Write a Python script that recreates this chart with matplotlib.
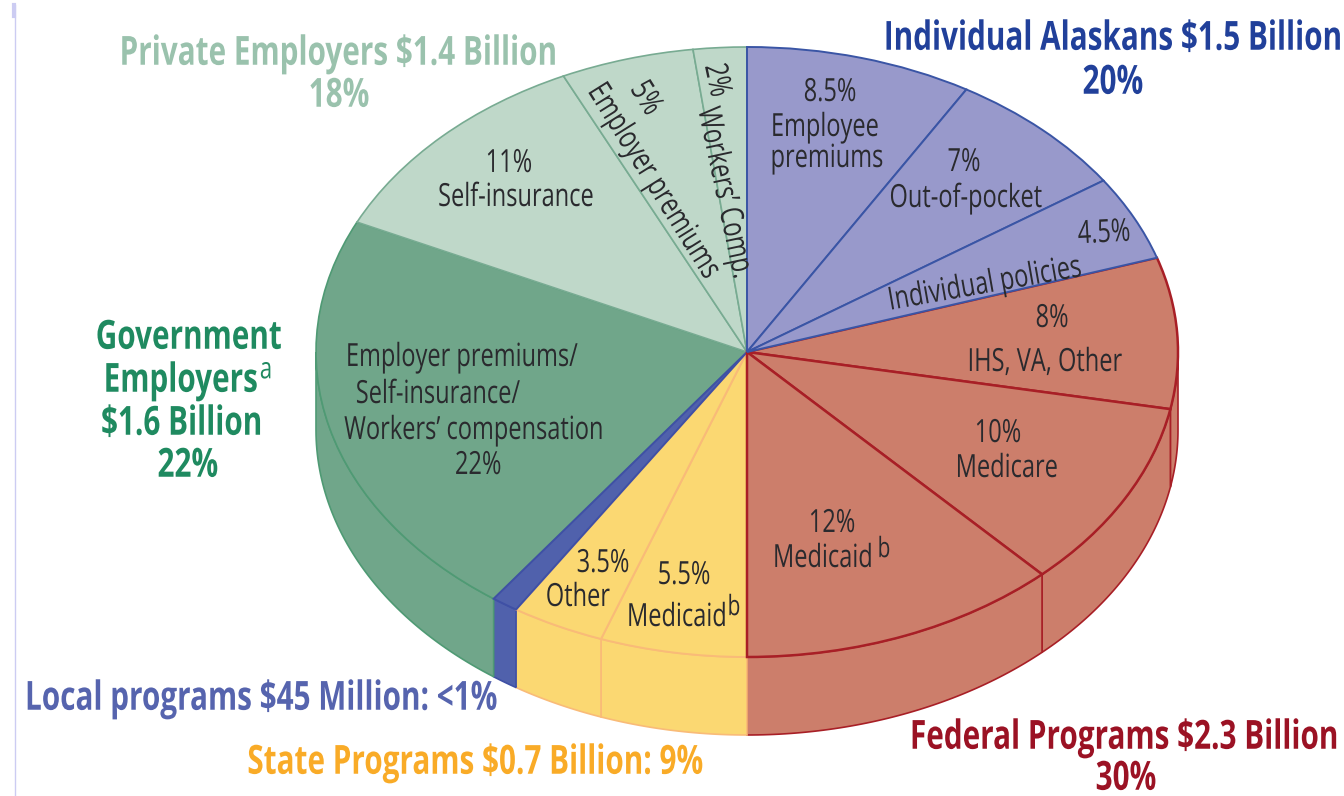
import numpy as np
import matplotlib
matplotlib.use('Agg')
import matplotlib.pyplot as plt
from matplotlib.patheffects import AbstractPathEffect
from matplotlib.transforms import Affine2D

plt.rcParams['font.family'] = ['Open Sans', 'DejaVu Sans']

# shares in percent, clockwise from 12 o'clock
slice_names = ['Employee premiums', 'Out-of-pocket', 'Individual policies',
               'IHS, VA, Other', 'Medicare', 'Medicaid (federal)',
               'Medicaid (state)', 'Other (state)', 'Local programs',
               'Government employers', 'Self-insurance', 'Employer premiums', "Workers' Comp."]
slice_values = [8.5, 7, 4.5, 8, 10, 12, 5.5, 3.5, 1, 22, 11, 5, 2]

BLUE, RED, YELLOW, LOCAL, GREEN, PALE = range(6)
slice_groups = [BLUE, BLUE, BLUE, RED, RED, RED, YELLOW, YELLOW, LOCAL, GREEN, PALE, PALE, PALE]
fills = ['#9899cb', '#cc7e6b', '#fbd872', '#5061ac', '#70a68a', '#bfd8c9']
edges = ['#3a55a5', '#a81f26', '#f9bb78', '#3f50a5', '#4f9a74', '#78ab92']
widths = [1.4, 1.8, 1.4, 1.4, 1.2, 1.2]
orders = [5, 4, 3, 3, 2, 2]

# geometry of the tilted pie, in image pixels
W, H = 1344, 796
CX, CY, RX, RY, DEPTH = 747, 352, 431, 305, 78


def px(x, y):
    return (x - CX) / RX, (CY - y) / RY


class Tall(AbstractPathEffect):
    # no condensed font installed, so stretch glyphs upward to get the same look
    def __init__(self, factor):
        super().__init__()
        self.factor = factor

    def draw_path(self, renderer, gc, tpath, affine, rgbFace=None):
        stretch = Affine2D().translate(0, -36).scale(1, self.factor).translate(0, 36)
        renderer.draw_path(gc, tpath, stretch + affine, rgbFace)


fig = plt.figure(figsize=(W / 100, H / 100), dpi=100)
ax = fig.add_axes([0, 0, 1, 1])
depth = DEPTH / RY

cuts = np.concatenate([[0], np.cumsum(slice_values)]) / np.sum(slice_values)

# side wall, only the front half (25%..75%) is visible
for i, g in enumerate(slice_groups):
    a = max(cuts[i], 0.25)
    b = min(cuts[i + 1], 0.75)
    if a >= b:
        continue
    t = np.linspace(a, b, 60) * 2 * np.pi
    xs, ys = np.sin(t), np.cos(t)
    ax.fill(np.r_[xs, xs[::-1]], np.r_[ys, ys[::-1] - depth],
            facecolor=fills[g], edgecolor=edges[g], linewidth=1.2, zorder=1)

# top surface
wedges, _ = ax.pie(slice_values, startangle=90, counterclock=False, radius=1, center=(0, 0))
for w, g in zip(wedges, slice_groups):
    w.set_facecolor(fills[g])
    w.set_edgecolor(edges[g])
    w.set_linewidth(widths[g])
    w.set_zorder(orders[g] + 2)

ax.set_aspect('auto')
ax.set_xlim(px(0, 0)[0], px(W, 0)[0])
ax.set_ylim(px(0, H)[1], px(0, 0)[1])
ax.axis('off')

# thin rule at the left edge of the page
ax.plot(*zip(px(15.5, 5), px(15.5, H)), color='#ccccf2', linewidth=1, zorder=1)
ax.plot(*zip(px(14, 5), px(14, 16)), color='#ccccf2', linewidth=3, zorder=1)

INK = '#2a2a2e'
SMALL = 17
BIG = 21.4
TALL = [Tall(1.35)]

inside_labels = [
    ('8.5%', 830, 92, 0), ('Employee', 825, 127, 0), ('premiums', 827, 158, 0),
    ('7%', 964, 162, 0), ('Out-of-pocket', 966, 198, 0),
    ('4.5%', 1104, 233, 3), ('Individual policies', 985, 284, 10),
    ('8%', 1052, 318, 0), ('IHS, VA, Other', 1045, 362, 0),
    ('10%', 998, 433, 0), ('Medicare', 1007, 468, 0),
    ('12%', 832, 523, 0), ('Medicaid', 823, 558, 0),
    ('5.5%', 684, 575, 0), ('Medicaid', 677, 617, 0),
    ('3.5%', 603, 563, 0), ('Other', 578, 597, 0),
    ('Employer premiums/', 462, 357, 0), ('Self-insurance/', 438, 394, 0),
    ("Workers\u2019 compensation", 474, 430, 0), ('22%', 478, 465, 0),
    ('11%', 509, 163, 0), ('Self-insurance', 516, 197, 0),
    ('5%', 646, 98, -58), ('Employer premiums', 654, 181, -58),
    ('2%', 717, 80, -78), ("Workers\u2019 Comp.", 725, 193, -78),
]
for s, x, y, rot in inside_labels:
    ax.text(*px(x, y), s, fontsize=SMALL, color=INK, ha='center', va='center',
            rotation=rot, rotation_mode='anchor', zorder=10, path_effects=TALL)

# superscripts
for s, x, y in [('b', 884, 549), ('b', 734, 607)]:
    ax.text(*px(x, y), s, fontsize=15, color=INK, ha='center', va='center', zorder=10, path_effects=TALL)

outside_labels = [
    ('Private Employers $1.4 Billion', 339, 53, '#9ac2ad'), ('18%', 339, 95, '#9ac2ad'),
    ('Individual Alaskans $1.5 Billion', 1114, 38, '#21409a'), ('20%', 1113, 82, '#21409a'),
    ('Government', 189, 337, '#1f8a60'), ('Employers', 181, 380, '#1f8a60'),
    ('$1.6 Billion', 182, 423, '#1f8a60'), ('22%', 188, 465, '#1f8a60'),
    ('Local programs $45 Million: <1%', 262, 698, '#5664ae'),
    ('State Programs $0.7 Billion: 9%', 476, 762, '#f9ab27'),
    ('Federal Programs $2.3 Billion', 1125, 737, '#9b1224'), ('30%', 1126, 778, '#9b1224'),
]
for s, x, y, c in outside_labels:
    ax.text(*px(x, y), s, fontsize=BIG, color=c, fontweight='bold', ha='center', va='center',
            zorder=10, path_effects=TALL)
ax.text(*px(266, 370), 'a', fontsize=16, color='#1f8a60', ha='center', va='center', zorder=10, path_effects=TALL)

fig.savefig('out.png', dpi=100, facecolor='white')
